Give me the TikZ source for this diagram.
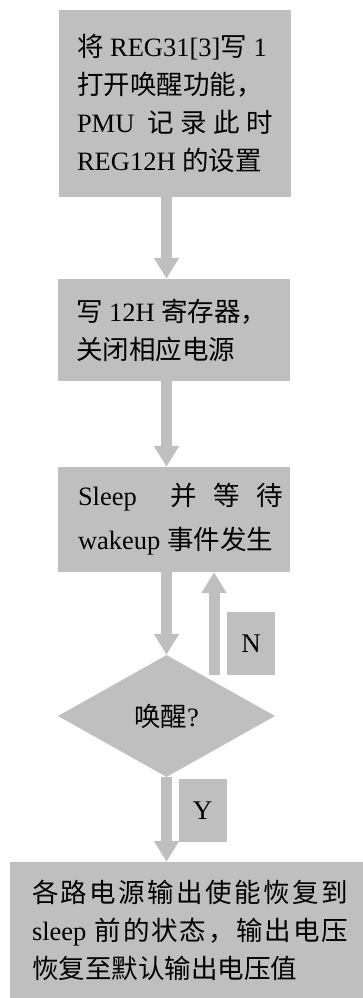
\documentclass[tikz,border=0pt]{standalone}
\usepackage{fontspec}
\setmainfont{Liberation Serif}
\newfontfamily\cjk{Noto Sans CJK SC}
\usetikzlibrary{shapes.geometric,arrows.meta}
\newcommand{\zh}[1]{{\cjk #1}}
\definecolor{boxgray}{RGB}{191,191,191}
\tikzset{
  stepbox/.style={fill=boxgray, inner sep=0pt, align=left, font=\fontsize{26.5}{38}\selectfont},
  decision/.style={diamond, fill=boxgray, inner sep=0pt, minimum width=217pt, minimum height=122pt, font=\fontsize{26.5}{38}\selectfont},
  tag/.style={fill=boxgray, inner sep=0pt, minimum width=48pt, minimum height=63pt, font=\fontsize{27}{38}\selectfont},
  flow/.style={draw=boxgray, line width=11pt, -{Triangle[width=24pt,length=21pt]}}
}

\begin{document}
\begin{tikzpicture}[x=1pt,y=-1pt]
\useasboundingbox (0,0) rectangle (362,998);
% The boxes are placed at pixel coordinates, y runs downwards
\node[stepbox, minimum width=232pt, minimum height=187pt] (setwake) at (175,103.5)
  {\zh{将} REG31[3]\zh{写} 1\\ \zh{打开唤醒功能，}\\
   \makebox[196pt]{PMU\hfill\hfill\zh{记}\hfill\zh{录}\hfill\zh{此}\hfill\zh{时}}\\ REG12H \zh{的设置}};
\node[stepbox, minimum width=232pt, minimum height=102pt] (powoff) at (174,330)
  {\makebox[196pt][l]{\zh{写} 12H \zh{寄存器，}}\\ \zh{关闭相应电源}};
% a little room on the left so the text sits as in the original
\node[stepbox, minimum width=232pt, minimum height=105pt] (sleep) at (174,519.5)
  {\hspace*{13pt}\makebox[205pt]{Sleep\hfill\hfill\zh{并}\hfill\zh{等}\hfill\zh{待}}\\[6pt]
   \hspace*{13pt}wakeup \zh{事件发生}};
\node[decision] (dec) at (166.5,716) {\zh{唤醒}?};
\node[stepbox, minimum width=360pt, minimum height=136pt] (restore) at (190,930)
  {\makebox[316pt]{\zh{各\hfill 路\hfill 电\hfill 源\hfill 输\hfill 出\hfill 使\hfill 能\hfill 恢\hfill 复\hfill 到}}\\
   \makebox[316pt]{sleep \hfill\zh{前\hfill 的\hfill 状\hfill 态\hfill ，\hfill 输\hfill 出\hfill 电\hfill 压}}\\
   \zh{恢复至默认输出电压值}};
% Y and N are grey boxes beside the arrows
\node[tag] (no) at (251,643.5) {N};
\node[tag] (yes) at (202.5,810.5) {Y};
\coordinate (nfoot) at (214,675);
% Block arrows
\draw[flow] (setwake.south -| dec.north) -- (powoff.north -| dec.north);
\draw[flow] (powoff.south -| dec.north) -- (sleep.north -| dec.north);
\draw[flow] (sleep.south -| dec.north) -- (dec.north);
\draw[flow] (nfoot) -- (nfoot |- sleep.south);
\draw[flow] (dec.south) -- (restore.north -| dec.south);
\end{tikzpicture}
\end{document}
